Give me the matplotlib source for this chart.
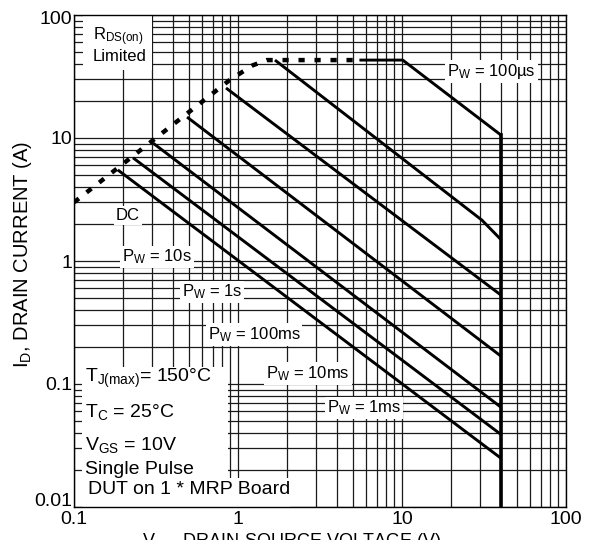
import matplotlib
matplotlib.use("Agg")
import matplotlib.pyplot as plt
from matplotlib.ticker import FixedLocator, FixedFormatter, LogLocator, NullFormatter
from matplotlib.patches import Rectangle

# ---------------- data ----------------
x_ticks = [0.1, 1, 10, 100]
x_tick_labels = ["0.1", "1", "10", "100"]
y_ticks = [0.01, 0.1, 1, 10, 100]
y_tick_labels = ["0.01", "0.1", "1", "10", "100"]

# RDS(on) limit (dotted)
rds_v = [0.1, 0.89, 1.23, 1.5, 5.5]
rds_i = [3.0, 29.6, 39.0, 43.0, 43.0]

# safe operating area boundaries for each pulse width
dc_v = [0.185, 40]
dc_i = [5.5, 0.025]
s10_v = [0.229, 40]
s10_i = [6.9, 0.039]
s1_v = [0.303, 40]
s1_i = [9.1, 0.065]
ms100_v = [0.489, 40]
ms100_i = [14.8, 0.169]
ms10_v = [0.845, 40]
ms10_i = [25.5, 0.53]
ms1_v = [1.68, 30.7, 40]
ms1_i = [43.0, 2.15, 1.5]
us100_v = [5.5, 10.1, 40]
us100_i = [43.0, 43.0, 10.6]
# BVDSS limit (vertical)
bv_v = [40, 40]
bv_i = [10.6, 0.01]

plt.rcParams['font.family'] = ['Liberation Sans', 'DejaVu Sans']
plt.rcParams['mathtext.fontset'] = 'custom'
plt.rcParams['mathtext.rm'] = 'Liberation Sans'
plt.rcParams['mathtext.it'] = 'Liberation Sans'
plt.rcParams['mathtext.bf'] = 'Liberation Sans'

fig = plt.figure(figsize=(5.93, 5.4), dpi=100)
W, H = 593, 540
ax = fig.add_axes([74 / W, 1 - 507 / H, 492 / W, 492 / H])
ax.set_xscale('log')
ax.set_yscale('log')
ax.set_xlim(0.1, 100)
ax.set_ylim(0.01, 100)

# grid
ax.xaxis.set_minor_locator(LogLocator(base=10, subs=range(2, 10)))
ax.yaxis.set_minor_locator(LogLocator(base=10, subs=range(2, 10)))
ax.xaxis.set_minor_formatter(NullFormatter())
ax.yaxis.set_minor_formatter(NullFormatter())
ax.grid(True, which='both', color='#1a1a1a', linewidth=0.9)
ax.set_axisbelow(True)

ax.xaxis.set_major_locator(FixedLocator(x_ticks))
ax.xaxis.set_major_formatter(FixedFormatter(x_tick_labels))
# extreme y labels are drawn separately (shifted inward like the original)
ax.yaxis.set_major_locator(FixedLocator(y_ticks))
ax.yaxis.set_major_formatter(FixedFormatter([""] + y_tick_labels[1:-1] + [""]))
ax.tick_params(which='both', length=0, labelsize=14)
ax.tick_params(axis='x', pad=3)
ax.tick_params(axis='y', pad=1)
for s in ax.spines.values():
    s.set_color('black')
    s.set_linewidth(1.0)

ytr = ax.get_yaxis_transform()
ax.annotate(y_tick_labels[0], xy=(0, y_ticks[0]), xycoords=ytr,
            xytext=(-1, 3.6), textcoords='offset points',
            ha='right', va='center', fontsize=14, annotation_clip=False)
ax.annotate(y_tick_labels[-1], xy=(0, y_ticks[-1]), xycoords=ytr,
            xytext=(-1, -3.2), textcoords='offset points',
            ha='right', va='center', fontsize=14, annotation_clip=False)

# white boxes behind annotation text
ax.add_patch(Rectangle((0.016, 0.0), 0.297, 0.285, transform=ax.transAxes,
                       facecolor='white', edgecolor='none', zorder=1.5))
ax.add_patch(Rectangle((0.016, 0.0), 0.423, 0.059, transform=ax.transAxes,
                       facecolor='white', edgecolor='none', zorder=1.5))
ax.add_patch(Rectangle((0.018, 0.888), 0.141, 0.112, transform=ax.transAxes,
                       facecolor='white', edgecolor='none', zorder=1.5))

lw = 2.1
ax.plot(rds_v, rds_i, color='black', linewidth=3.2, linestyle=(0, (1.4, 2.2)),
        dash_capstyle='butt', zorder=3)
for v, i in [(dc_v, dc_i), (s10_v, s10_i), (s1_v, s1_i), (ms100_v, ms100_i),
             (ms10_v, ms10_i), (ms1_v, ms1_i), (us100_v, us100_i)]:
    ax.plot(v, i, color='black', linewidth=lw, solid_capstyle='butt', zorder=3)
ax.plot(bv_v, bv_i, color='black', linewidth=2.6, zorder=3)

# labels
bbox = dict(facecolor='white', edgecolor='none', pad=1.5)
def lab(fx, fy, s, size=12, ha='center'):
    ax.text(fx, fy, s, transform=ax.transAxes, ha=ha, va='center',
            fontsize=size, bbox=bbox, zorder=4)

lab(0.110, 0.593, "DC")
lab(0.169, 0.508, r"$\mathrm{P_W}$ = 10s")
lab(0.280, 0.437, r"$\mathrm{P_W}$ = 1s")
lab(0.366, 0.350, r"$\mathrm{P_W}$ = 100ms")
lab(0.476, 0.272, r"$\mathrm{P_W}$ = 10ms")
lab(0.590, 0.201, r"$\mathrm{P_W}$ = 1ms")
lab(0.848, 0.886, r"$\mathrm{P_W}$ = 100µs")

ax.text(0.0386, 0.955, r"$\mathrm{R_{DS(on)}}$", transform=ax.transAxes,
        ha='left', va='center', fontsize=12, zorder=4)
ax.text(0.0386, 0.915, "Limited", transform=ax.transAxes,
        ha='left', va='center', fontsize=12, zorder=4)

cond = [
    (85, 378, r"$\mathrm{T_{J(max)}}$= 150°C"),
    (85, 412, r"$\mathrm{T_C}$ = 25°C"),
    (85, 445, r"$\mathrm{V_{GS}}$ = 10V"),
    (85, 469, "Single Pulse"),
    (88, 490, "DUT on 1 * MRP Board"),
]
for px, py, s in cond:
    ax.text((px - 74) / 492, (507 - py) / 492, s, transform=ax.transAxes,
            ha='left', va='center', fontsize=14, zorder=4)

fig.text(23 / W, 1 - 254.5 / H, r"$\mathrm{I_D}$, DRAIN CURRENT (A)", rotation=90,
         ha='center', va='center', fontsize=14.5)
fig.text(292 / W, -0.011, r"$\mathrm{V_{DS}}$, DRAIN-SOURCE VOLTAGE (V)",
         ha='center', va='baseline', fontsize=13)

fig.savefig("out.png", dpi=100, facecolor='white')
